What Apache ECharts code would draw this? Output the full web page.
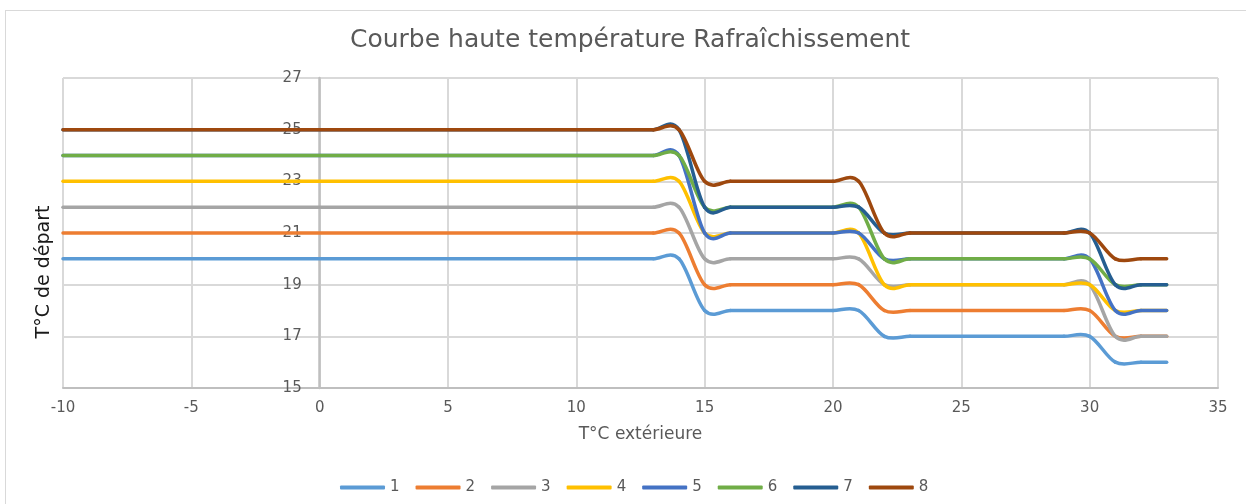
<!DOCTYPE html>
<html>
<head>
<meta charset="utf-8">
<script src="https://cdn.jsdelivr.net/npm/echarts@6/dist/echarts.min.js"></script>
<style>
    html, body { margin: 0; padding: 0; background: #fff; }
    #frame { position: absolute; left: 5px; top: 10px; width: 1400px; height: 600px; border-left: 1px solid #d9d9d9; border-top: 1px solid #d9d9d9; }
    #chart { position: absolute; left: 0; top: 0; width: 1246px; height: 504px; }
</style>
</head>
<body>
<div id="frame"></div>
<div id="chart"></div>
<script>
// T°C extérieure (points communs à toutes les courbes)
var tempExt = [-10, 13, 14, 15, 16, 20, 21, 22, 23, 29, 30, 31, 32, 33];

// T°C de départ par courbe
var courbe1 = [20, 20, 20, 18, 18, 18, 18, 17, 17, 17, 17, 16, 16, 16];
var courbe2 = [21, 21, 21, 19, 19, 19, 19, 18, 18, 18, 18, 17, 17, 17];
var courbe3 = [22, 22, 22, 20, 20, 20, 20, 19, 19, 19, 19, 17, 17, 17];
var courbe4 = [23, 23, 23, 21, 21, 21, 21, 19, 19, 19, 19, 18, 18, 18];
var courbe5 = [24, 24, 24, 21, 21, 21, 21, 20, 20, 20, 20, 18, 18, 18];
var courbe6 = [24, 24, 24, 22, 22, 22, 22, 20, 20, 20, 20, 19, 19, 19];
var courbe7 = [25, 25, 25, 22, 22, 22, 22, 21, 21, 21, 21, 19, 19, 19];
var courbe8 = [25, 25, 25, 23, 23, 23, 23, 21, 21, 21, 21, 20, 20, 20];

var legendName = ['1', '2', '3', '4', '5', '6', '7', '8'];
var colors = ['#5B9BD5', '#ED7D31', '#A5A5A5', '#FFC000', '#4472C4', '#70AD47', '#255E91', '#9E480E'];
var allCourbes = [courbe1, courbe2, courbe3, courbe4, courbe5, courbe6, courbe7, courbe8];

var font = 'DejaVu Sans';

//couples x/y
function toPoints(values){
    var pts = [];
    for(var i=0; i<tempExt.length; i++){
        pts.push([tempExt[i], values[i]]);
    }
    return pts;
}

//pentes aux points (lissage type Excel)
function getSlopes(values){
    var n = tempExt.length;
    var m = [];
    for(var i=0; i<n; i++){
        var a = i === 0 ? 0 : i - 1;
        var b = i === n - 1 ? n - 1 : i + 1;
        m.push((values[b] - values[a]) / (tempExt[b] - tempExt[a]));
    }
    return m;
}

//courbe lissée passant par les points, via les axes du graphique
function renderCourbe(values, color){
    var slopes = getSlopes(values);
    return function(params, api){
        if (params.dataIndex !== 0) {
            return;
        }
        var children = [];
        for(var i=0; i<tempExt.length-1; i++){
            var h = (tempExt[i+1] - tempExt[i]) / 3;
            var p0 = api.coord([tempExt[i], values[i]]);
            var c1 = api.coord([tempExt[i] + h, values[i] + slopes[i] * h]);
            var c2 = api.coord([tempExt[i+1] - h, values[i+1] - slopes[i+1] * h]);
            var p1 = api.coord([tempExt[i+1], values[i+1]]);
            children.push({
                type: 'bezierCurve',
                shape: {
                    x1: p0[0], y1: p0[1],
                    cpx1: c1[0], cpy1: c1[1],
                    cpx2: c2[0], cpy2: c2[1],
                    x2: p1[0], y2: p1[1]
                },
                style: { fill: null, stroke: color, lineWidth: 3.5, lineCap: 'round', lineJoin: 'round' }
            });
        }
        return { type: 'group', children: children };
    };
}

var series = [];
for(var k=0; k<allCourbes.length; k++){
    series.push({
        name: legendName[k],
        type: 'custom',
        coordinateSystem: 'cartesian2d',
        silent: true,
        itemStyle: { color: colors[k] },
        renderItem: renderCourbe(allCourbes[k], colors[k]),
        data: toPoints(allCourbes[k])
    });
}

var myChart = echarts.init(document.getElementById('chart'));

var option = {
    animation: false,
    backgroundColor: 'transparent',
    color: colors,
    title: {
        text: 'Courbe haute température Rafraîchissement',
        left: 345,
        top: 23,
        textStyle: { fontFamily: font, fontSize: 25, fontWeight: 'normal', color: '#595959' }
    },
    grid: {
        left: 63,
        top: 78,
        width: 1155,
        height: 310,
        containLabel: false,
        outerBoundsMode: 'none'
    },
    legend: {
        data: legendName,
        left: 335,
        top: 475,
        icon: 'roundRect',
        itemWidth: 45,
        itemHeight: 4,
        itemGap: 16,
        textStyle: { fontFamily: font, fontSize: 15, color: '#595959', padding: [0, 0, 0, 0] }
    },
    graphic: [{
        type: 'text',
        rotation: Math.PI / 2,
        x: 44,
        y: 272,
        style: {
            text: 'T°C de départ',
            font: '19px "DejaVu Sans"',
            fill: '#1a1a1a',
            textAlign: 'center',
            textVerticalAlign: 'middle'
        }
    }],
    xAxis: {
        type: 'value',
        min: -10,
        max: 35,
        interval: 5,
        name: 'T°C extérieure',
        nameLocation: 'middle',
        nameGap: 38,
        nameTextStyle: { fontFamily: font, fontSize: 17, color: '#595959' },
        axisLine: { onZero: false, lineStyle: { color: '#bfbfbf', width: 2 } },
        axisTick: { show: false },
        axisLabel: { fontFamily: font, fontSize: 15, color: '#595959', margin: 13 },
        splitLine: { show: true, lineStyle: { color: '#d9d9d9', width: 2 } }
    },
    yAxis: {
        type: 'value',
        min: 15,
        max: 27,
        interval: 2,
        offset: -256.7,
        axisLine: { show: true, onZero: false, lineStyle: { color: '#bfbfbf', width: 2.5 } },
        axisTick: { show: false },
        axisLabel: { fontFamily: font, fontSize: 15, color: '#595959', margin: 18 },
        splitLine: { show: true, lineStyle: { color: '#d9d9d9', width: 2 } }
    },
    series: series
};

myChart.setOption(option);
</script>
</body>
</html>
